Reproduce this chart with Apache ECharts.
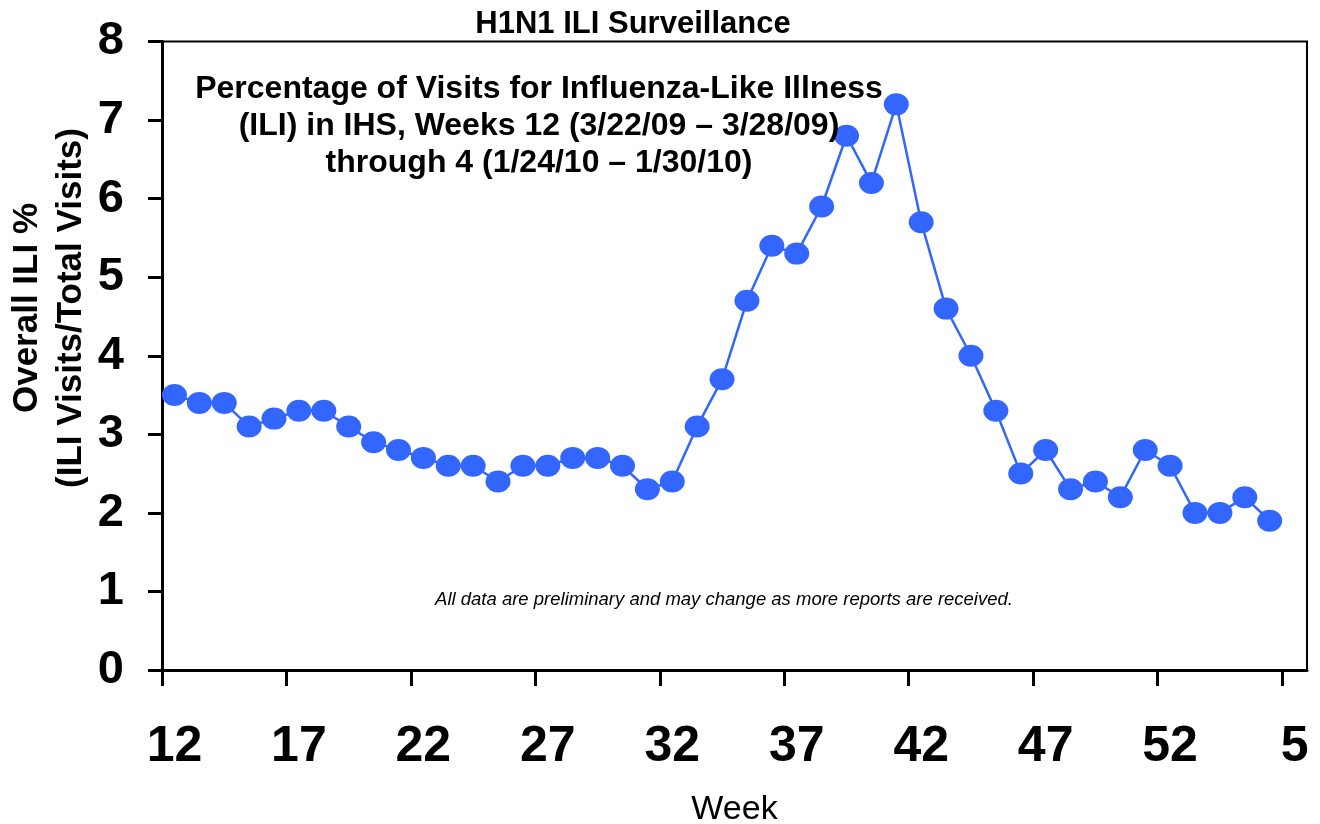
<!DOCTYPE html>
<html>
<head>
<meta charset="utf-8">
<script src="https://cdn.jsdelivr.net/npm/echarts@6/dist/echarts.min.js"></script>
<style>
html,body{margin:0;padding:0;background:#fff;}
#chart{width:1320px;height:824px;}
</style>
</head>
<body>
<div id="chart"></div>
<script>
// Week categories (2009 week 12 through 2010 week 5)
const weeks = ['12','13','14','15','16','17','18','19','20','21','22','23','24','25','26','27','28','29','30','31','32','33','34','35','36','37','38','39','40','41','42','43','44','45','46','47','48','49','50','51','52','1','2','3','4','5'];
// Overall ILI % values (week 5 not yet reported)
const iliPct = [3.5,3.4,3.4,3.1,3.2,3.3,3.3,3.1,2.9,2.8,2.7,2.6,2.6,2.4,2.6,2.6,2.7,2.7,2.6,2.3,2.4,3.1,3.7,4.7,5.4,5.3,5.9,6.8,6.2,7.2,5.7,4.6,4.0,3.3,2.5,2.8,2.3,2.4,2.2,2.8,2.6,2.0,2.0,2.2,1.9,null];
const yTicks = [0,1,2,3,4,5,6,7,8];
const tickEvery = 5; // an x tick every 5 weeks

const FONT = 'Arial, "Liberation Sans", sans-serif';
const nCat = weeks.length;
const chart = echarts.init(document.getElementById('chart'), null, {renderer:'canvas'});
chart.setOption({
  animation:false,
  backgroundColor:'#ffffff',
  title:[
    {text:'H1N1 ILI Surveillance', left:628, top:4, textAlign:'center',
     textStyle:{fontFamily:FONT, fontSize:31, fontWeight:'bold', color:'#000'}},
    {text:'Percentage of Visits for Influenza-Like Illness\n(ILI) in IHS, Weeks 12 (3/22/09 \u2013 3/28/09)\nthrough 4 (1/24/10 \u2013 1/30/10)',
     left:534, top:66, textAlign:'center',
     textStyle:{fontFamily:FONT, fontSize:32, fontWeight:'bold', color:'#000', lineHeight:37, align:'center'}},
    {text:'All data are preliminary and may change as more reports are received.',
     left:719, top:585, textAlign:'center',
     textStyle:{fontFamily:FONT, fontSize:18.5, fontStyle:'italic', fontWeight:'normal', color:'#000'}}
  ],
  graphic:[
    {type:'text', x:49, y:308, rotation:Math.PI/2,
     style:{text:'Overall ILI %\n(ILI Visits/Total Visits)', font:'bold 35px '+FONT, fill:'#000',
            align:'center', verticalAlign:'middle', lineHeight:44}}
  ],
  grid:[
    {left:162, right:13, top:41.5, bottom:154, show:true, borderColor:'#000', borderWidth:2,
     containLabel:false, outerBoundsMode:'none'},
    {left:162, right:13 + (1307-162)/nCat, top:41.5, bottom:154, show:false,
     containLabel:false, outerBoundsMode:'none'}
  ],
  xAxis:[{
    type:'category', data:weeks, boundaryGap:true, gridIndex:0,
    name:'Week', nameLocation:'middle', nameGap:123,
    nameTextStyle:{fontFamily:FONT, fontSize:34, color:'#000'},
    axisLine:{lineStyle:{color:'#000', width:3}},
    axisTick:{show:false},
    axisLabel:{interval:tickEvery-1, margin:52, fontFamily:FONT, fontSize:50, fontWeight:'bold', color:'#000'},
    splitLine:{show:false}
  },{
    type:'value', gridIndex:1, min:0, max:nCat-1, interval:tickEvery, position:'bottom',
    axisLine:{show:false},
    axisTick:{show:true, length:16, lineStyle:{color:'#000', width:3}},
    axisLabel:{show:false},
    splitLine:{show:false}
  }],
  yAxis:[{
    type:'value', min:0, max:8, interval:1, gridIndex:0,
    axisLine:{show:true, lineStyle:{color:'#000', width:3}},
    axisTick:{show:true, length:14, lineStyle:{color:'#000', width:3}},
    axisLabel:{margin:38, fontFamily:FONT, fontSize:47, fontWeight:'bold', color:'#000',
               formatter:function(v){return yTicks.indexOf(v)>=0 ? String(v) : '';}},
    splitLine:{show:false}
  },{
    type:'value', gridIndex:1, min:0, max:8, show:false
  }],
  series:[{
    type:'line', data:iliPct, connectNulls:false, xAxisIndex:0, yAxisIndex:0,
    showAllSymbol:true,
    symbol:'circle', symbolSize:[25,22],
    itemStyle:{color:'#3366ff'},
    lineStyle:{color:'#3366ff', width:2.5}
  }]
});
</script>
</body>
</html>
